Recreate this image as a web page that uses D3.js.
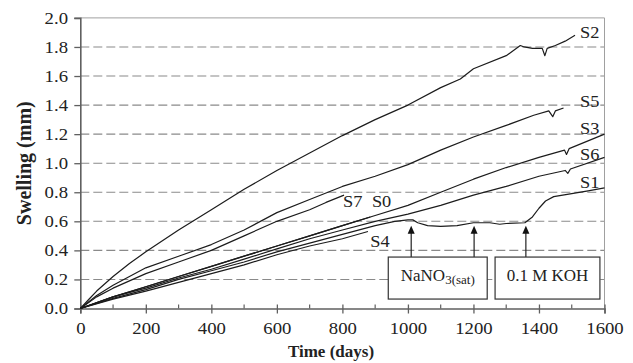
<!DOCTYPE html>
<html>
<head>
<meta charset="utf-8">
<script src="https://cdn.jsdelivr.net/npm/d3@7"></script>
<style>
  body { margin: 0; background: #fff; }
  svg text { font-family: "Times New Roman", Times, "Liberation Serif", "DejaVu Serif", serif; fill: #222; }
</style>
</head>
<body>
<div id="chart"></div>
<script>
// Swelling curves (days, mm)
const s2Days = [0, 25, 50, 100, 150, 200, 300, 400, 500, 600, 700, 800, 900, 1000, 1100, 1160, 1200, 1300, 1343, 1355, 1380, 1410, 1418, 1425, 1450, 1480, 1510];
const s2Vals = [0, 0.06, 0.12, 0.22, 0.31, 0.39, 0.54, 0.68, 0.82, 0.95, 1.07, 1.19, 1.30, 1.40, 1.52, 1.58, 1.65, 1.74, 1.81, 1.80, 1.79, 1.79, 1.74, 1.79, 1.81, 1.84, 1.88];

const s5Days = [0, 50, 100, 200, 300, 400, 500, 600, 700, 800, 900, 1000, 1100, 1200, 1300, 1384, 1430, 1442, 1450, 1475];
const s5Vals = [0, 0.09, 0.16, 0.28, 0.36, 0.44, 0.54, 0.66, 0.75, 0.84, 0.91, 0.99, 1.09, 1.18, 1.26, 1.33, 1.36, 1.32, 1.36, 1.38];

const s7Days = [0, 50, 100, 200, 300, 400, 500, 600, 700, 750, 805];
const s7Vals = [0, 0.08, 0.14, 0.24, 0.32, 0.40, 0.50, 0.60, 0.68, 0.73, 0.78];

const s0Days = [0, 100, 200, 300, 400, 500, 600, 700, 800, 885];
const s0Vals = [0, 0.08, 0.15, 0.22, 0.29, 0.36, 0.43, 0.50, 0.57, 0.63];

const s3Days = [0, 100, 200, 300, 400, 500, 600, 700, 800, 900, 1000, 1100, 1200, 1300, 1400, 1478, 1484, 1492, 1600];
const s3Vals = [0, 0.08, 0.15, 0.22, 0.29, 0.36, 0.43, 0.50, 0.57, 0.64, 0.71, 0.80, 0.89, 0.97, 1.04, 1.09, 1.06, 1.10, 1.20];

const s6Days = [0, 100, 200, 300, 400, 500, 600, 700, 800, 900, 1000, 1100, 1200, 1300, 1400, 1480, 1488, 1496, 1600];
const s6Vals = [0, 0.08, 0.14, 0.21, 0.27, 0.34, 0.41, 0.48, 0.54, 0.60, 0.65, 0.71, 0.78, 0.84, 0.91, 0.95, 0.93, 0.96, 1.04];

const s1Days = [0, 100, 200, 300, 400, 500, 600, 700, 800, 900, 960, 1000, 1015, 1030, 1060, 1100, 1150, 1200, 1250, 1280, 1300, 1357, 1380, 1400, 1420, 1445, 1500, 1550, 1600];
const s1Vals = [0, 0.07, 0.13, 0.20, 0.26, 0.32, 0.39, 0.45, 0.51, 0.57, 0.60, 0.61, 0.61, 0.59, 0.57, 0.565, 0.57, 0.59, 0.59, 0.58, 0.585, 0.59, 0.63, 0.69, 0.74, 0.77, 0.79, 0.81, 0.83];

const s4Days = [0, 100, 200, 300, 400, 500, 600, 700, 800, 878];
const s4Vals = [0, 0.065, 0.12, 0.18, 0.24, 0.30, 0.37, 0.43, 0.48, 0.53];

const yTicks = [0, 0.2, 0.4, 0.6, 0.8, 1.0, 1.2, 1.4, 1.6, 1.8, 2.0];
const xTicks = [0, 200, 400, 600, 800, 1000, 1200, 1400, 1600];
const xMinor = [100, 300, 500, 700, 900, 1100, 1300, 1500];

// curve labels: [name, day, value] anchor of the text
const labels = [
  ['S2', 1525, 1.86], ['S5', 1525, 1.39], ['S3', 1525, 1.20], ['S6', 1525, 1.02],
  ['S1', 1525, 0.83], ['S7', 802, 0.70], ['S0', 890, 0.70], ['S4', 885, 0.42]
];
// treatment changes for S1 (arrow day)
const arrowDays = [1010, 1202, 1360];

const serif = '"Times New Roman", Times, "Liberation Serif", "DejaVu Serif", serif';
const stretch = 1.17; // source figure text is slightly wide

const width = 633, height = 363;
const svg = d3.select('#chart').append('svg')
  .attr('width', width)
  .attr('height', height)
  .attr('font-family', serif);

const x = d3.scaleLinear().domain([0, 1600]).range([80.3, 604.5]);
const y = d3.scaleLinear().domain([0, 2]).range([308.5, 17.9]);

// dashed grid
svg.append('g')
  .selectAll('line')
  .data(yTicks.filter(d => d > 0 && d < 2))
  .join('line')
  .attr('x1', x(0)).attr('x2', x(1600))
  .attr('y1', d => y(d)).attr('y2', d => y(d))
  .attr('stroke', '#8a8a8a')
  .attr('stroke-width', 1.1)
  .attr('stroke-dasharray', '9,4');

// frame top / right
svg.append('path')
  .attr('d', `M${x(0)},${y(2)}H${x(1600)}V${y(0)}`)
  .attr('fill', 'none')
  .attr('stroke', '#a0a0a0')
  .attr('stroke-width', 1);

// axes
const yAxis = d3.axisLeft(y).tickValues(yTicks).tickFormat(d3.format('.1f')).tickSize(6).tickPadding(4.5);
const gy = svg.append('g').attr('transform', `translate(${x(0)},0)`).call(yAxis);
const xAxis = d3.axisBottom(x).tickValues(xTicks).tickFormat(d3.format('d')).tickSize(5).tickPadding(9);
const gx = svg.append('g').attr('transform', `translate(0,${y(0)})`).call(xAxis);

[gx, gy].forEach(g => {
  g.attr('font-family', serif).attr('font-size', 16);
  g.select('.domain').attr('stroke', '#606060').attr('stroke-width', 1.6);
  g.selectAll('.tick line').attr('stroke', '#606060').attr('stroke-width', 1.3);
  g.selectAll('.tick text').attr('fill', '#333').attr('transform', `scale(${stretch},1)`);
});
// major x ticks cross the axis
gx.selectAll('.tick line').attr('y1', -4);
gx.selectAll('.minor')
  .data(xMinor)
  .join('line')
  .attr('x1', d => x(d)).attr('x2', d => x(d))
  .attr('y1', -4).attr('y2', 0)
  .attr('stroke', '#606060').attr('stroke-width', 1.2);

// series
const series = [
  [s2Days, s2Vals], [s5Days, s5Vals], [s7Days, s7Vals], [s0Days, s0Vals],
  [s3Days, s3Vals], [s6Days, s6Vals], [s1Days, s1Vals], [s4Days, s4Vals]
];
const line = d3.line().x(d => x(d[0])).y(d => y(d[1]));
svg.append('g')
  .selectAll('path')
  .data(series.map(([ds, vs]) => ds.map((d, i) => [d, vs[i]])))
  .join('path')
  .attr('d', line)
  .attr('fill', 'none')
  .attr('stroke', '#1c1c1c')
  .attr('stroke-width', 1.2)
  .attr('stroke-linejoin', 'round');

// curve labels
svg.append('g')
  .selectAll('text')
  .data(labels)
  .join('text')
  .attr('transform', d => `translate(${x(d[1])},${y(d[2])}) scale(1.08,1)`)
  .attr('font-size', 17)
  .text(d => d[0]);

// annotation boxes
const boxes = [
  { x0: 940, x1: 1242, label: 'NaNO', sub: '3(sat)' },
  { x0: 1266, x1: 1586, label: '0.1 M KOH', sub: '' }
];
const boxTop = 0.354, boxBottom = 0.065;

// arrows
svg.append('g')
  .selectAll('line')
  .data(arrowDays)
  .join('line')
  .attr('x1', d => x(d)).attr('x2', d => x(d))
  .attr('y1', y(boxTop)).attr('y2', y(0.57) + 6)
  .attr('stroke', '#222').attr('stroke-width', 1.2);
svg.append('g')
  .selectAll('path')
  .data(arrowDays)
  .join('path')
  .attr('d', d => `M${x(d)},${y(0.57)}l-3.5,8h7z`)
  .attr('fill', '#111');

const bg = svg.append('g').selectAll('g').data(boxes).join('g');
bg.append('rect')
  .attr('x', d => x(d.x0))
  .attr('y', y(boxTop))
  .attr('width', d => x(d.x1) - x(d.x0))
  .attr('height', y(boxBottom) - y(boxTop))
  .attr('fill', '#fff')
  .attr('stroke', '#333')
  .attr('stroke-width', 1.2);
const bt = bg.append('text')
  .attr('x', d => (x(d.x0) + x(d.x1)) / 2)
  .attr('y', 281)
  .attr('text-anchor', 'middle')
  .attr('font-size', 17);
bt.append('tspan').text(d => d.label);
bt.filter(d => d.sub).append('tspan')
  .attr('dy', 3)
  .attr('font-size', 13)
  .text(d => d.sub);

// axis titles
svg.append('text')
  .attr('x', 331)
  .attr('y', 357)
  .attr('text-anchor', 'middle')
  .attr('font-size', 17)
  .attr('font-weight', 'bold')
  .text('Time (days)');

svg.append('text')
  .attr('transform', `translate(31,${y(1.0)}) rotate(-90)`)
  .attr('text-anchor', 'middle')
  .attr('font-size', 20)
  .attr('font-weight', 'bold')
  .text('Swelling (mm)');
</script>
</body>
</html>
